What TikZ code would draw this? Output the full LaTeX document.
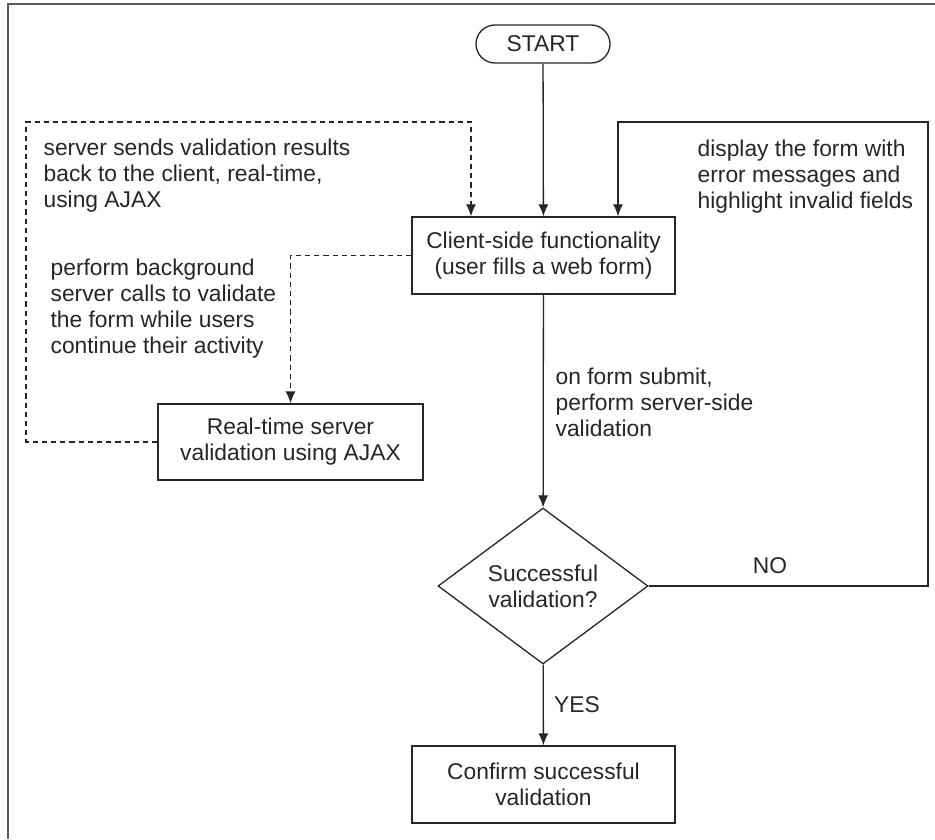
\documentclass[tikz,border=0pt]{standalone}
\usepackage{fontspec}
\setmainfont{Liberation Sans}
\usetikzlibrary{shapes.geometric,arrows.meta}
\begin{document}
\begin{tikzpicture}[>={Latex[length=6pt,width=5pt]}, x=0.5pt, y=-0.5pt, line width=0.65pt, color=black!85,
    font=\fontsize{11.4}{13}\selectfont,
    box/.style={draw, minimum width=131.5pt, minimum height=38.5pt, align=center, inner sep=0pt},
    note/.style={align=left, anchor=west, inner sep=0pt},
    back/.style={->, dash pattern=on 2.6pt off 2pt}]
    \useasboundingbox (0,0) rectangle (935,839);
    \draw[black!65, line width=1.2pt] (7,4)--(935,4) (8,4)--(8,839);
    \node[draw, rounded corners=9.5pt, minimum width=67pt, minimum height=19pt, inner sep=0pt] (start) at (543,44) {START};
    \node[box] (client) at (543.5,255.5) {Client-side functionality\\(user fills a web form)};
    \node[box, minimum width=132.5pt, minimum height=38pt] (ajax) at (290.5,442) {Real-time server\\validation using AJAX};
    \node[draw, diamond, minimum width=105pt, minimum height=78pt, inner sep=0pt, align=center] (check) at (543,586) {Successful\\validation?};
    \node[box] (confirm) at (543.5,784.5) {Confirm successful\\validation};
    \coordinate (tl) at (26,122);
    \coordinate (tr) at (928,122);
    \coordinate (d1) at (471,122);
    \coordinate (d2) at (618,122);
    \draw[->] (start)--(client);
    \draw[->] (client)--(check);
    \draw[->] (check)--(confirm);
    \draw[->] (check.east) -| (tr)--(d2)--(d2 |- client.north);
    \draw[back] (ajax.west) -| (tl)--(d1)--(d1 |- client.north);
    \draw[back] (client.west) -| (ajax.north);
    \node[note] (sends) at (43,176) {server sends validation results\\back to the client, real-time,\\using AJAX};
    \node[note] (calls) at (50,309) {perform background\\server calls to validate\\the form while users\\continue their activity};
    \node[note] (errors) at (697,177) {display the form with\\error messages and\\highlight invalid fields};
    \node[note] (submit) at (555,402) {on form submit,\\perform server-side\\validation};
    \node (no) at (770,566) {NO};
    \node (yes) at (577,705) {YES};
\end{tikzpicture}
\end{document}
